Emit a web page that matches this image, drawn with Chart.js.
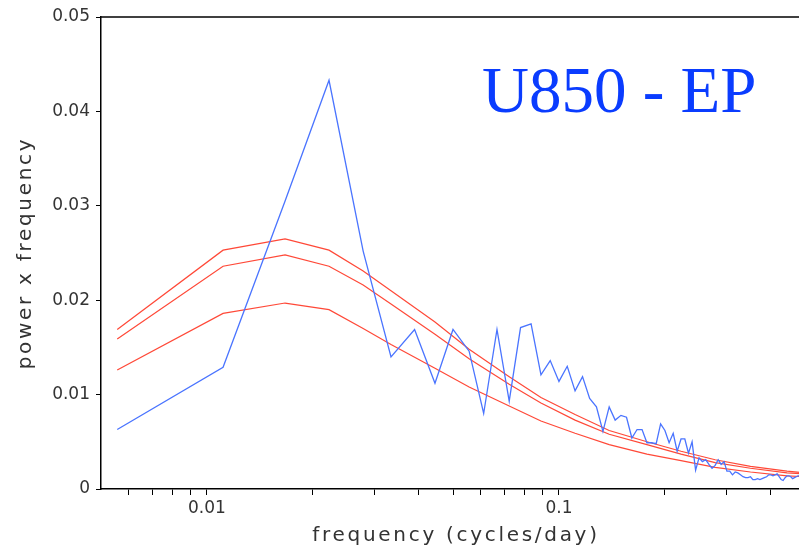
<!DOCTYPE html>
<html>
<head>
<meta charset="utf-8">
<script src="https://cdn.jsdelivr.net/npm/chart.js@4"></script>
<style>
  html, body { margin: 0; padding: 0; background: #fff; overflow: hidden; }
  .chart-box { position: absolute; left: 0; top: 0; width: 806px; height: 553px; }
</style>
</head>
<body>
<div class="chart-box"><canvas id="spectrum"></canvas></div>
<script>
// frequencies (cycles/day) of the spectral estimates
const freqs = [
  0.00556, 0.01111, 0.01667, 0.02222, 0.02778, 0.03333, 0.03889, 0.04444, 0.05, 0.05556,
  0.06111, 0.06667, 0.07222, 0.07778, 0.08333, 0.08889, 0.09444, 0.1, 0.10556, 0.11111,
  0.11667, 0.12222, 0.12778, 0.13333, 0.13889, 0.14444, 0.15, 0.15556, 0.16111, 0.16667,
  0.17222, 0.17778, 0.18333, 0.18889, 0.19444, 0.2, 0.20556, 0.21111, 0.21667, 0.22222,
  0.22778, 0.23333, 0.23889, 0.24444, 0.25, 0.25556, 0.26111, 0.26667, 0.27222, 0.27778,
  0.28333, 0.28889, 0.29444, 0.3, 0.30556, 0.31111, 0.31667, 0.32222, 0.32778, 0.33333,
  0.33889, 0.34444, 0.35, 0.35556, 0.36111, 0.36667, 0.37222, 0.37778, 0.38333, 0.38889,
  0.39444, 0.4, 0.40556, 0.41111, 0.41667, 0.42222, 0.42778, 0.43333, 0.43889, 0.44444,
  0.45, 0.45556, 0.46111, 0.46667, 0.47222, 0.47778, 0.48333, 0.48889, 0.49444, 0.5
];

// power x frequency of U850 over EP
const power = [
  0.0063, 0.0129, 0.0305, 0.0433, 0.0252, 0.0140, 0.0169, 0.0112, 0.0169, 0.0146,
  0.0080, 0.0169, 0.0093, 0.0171, 0.0175, 0.0121, 0.0136, 0.0114, 0.0130, 0.0104,
  0.0119, 0.0096, 0.0087, 0.0061, 0.0087, 0.0073, 0.0078, 0.0076, 0.0054, 0.0063,
  0.0063, 0.0049, 0.0049, 0.0048, 0.0069, 0.0062, 0.0049, 0.0059, 0.0040, 0.0053,
  0.0053, 0.0038, 0.0050, 0.0020, 0.0033, 0.0029, 0.0031, 0.0026, 0.0022, 0.0025,
  0.0031, 0.0026, 0.0029, 0.0019, 0.0019, 0.0015, 0.0018, 0.0017, 0.0015, 0.0013,
  0.0012, 0.0012, 0.0013, 0.0010, 0.0010, 0.0011, 0.0010, 0.0011, 0.0012, 0.0013,
  0.0015, 0.0015, 0.0014, 0.0015, 0.0016, 0.0013, 0.0010, 0.0009, 0.0012, 0.0014,
  0.0014, 0.0013, 0.0011, 0.0012, 0.0013, 0.0014, 0.0014, 0.0013, 0.0014, 0.0015
];

// red-noise background and its confidence curves
const redFreqs = [0.00556, 0.01111, 0.01667, 0.02222, 0.02778, 0.03333, 0.04444, 0.05556, 0.07222,
  0.08889, 0.11111, 0.13889, 0.17778, 0.22222, 0.27778, 0.35, 0.44444, 0.5];
const redUpper = [0.0169, 0.0253, 0.0265, 0.0253, 0.0231, 0.0210, 0.0177, 0.0148, 0.0119,
  0.0097, 0.0079, 0.0062, 0.0050, 0.0040, 0.0031, 0.0024, 0.0019, 0.0017];
const redMiddle = [0.0159, 0.0236, 0.0248, 0.0236, 0.0216, 0.0196, 0.0164, 0.0138, 0.0111,
  0.0091, 0.0073, 0.0058, 0.0047, 0.0037, 0.0028, 0.0022, 0.0017, 0.0016];
const redLower = [0.0126, 0.0186, 0.0197, 0.0190, 0.0170, 0.0153, 0.0128, 0.0108, 0.0088,
  0.0072, 0.0059, 0.0047, 0.0037, 0.0030, 0.0023, 0.0018, 0.0014, 0.0013];

const xTicks = [0.006, 0.007, 0.008, 0.009, 0.01, 0.02, 0.03, 0.04, 0.05, 0.06, 0.07, 0.08, 0.09,
  0.1, 0.2, 0.3, 0.4];
const xLabels = { 0.01: '0.01', 0.1: '0.1' };

const pts = (xs, ys) => xs.map((x, i) => ({ x, y: ys[i] }));
const redLine = (data) => ({
  data, borderColor: 'rgba(255,40,20,0.85)', borderWidth: 1.2, pointRadius: 0, tension: 0
});

// top frame line, panel title and the (wide-spaced) axis titles
const framePlugin = {
  id: 'frame',
  afterDraw(chart) {
    const { ctx, chartArea: a } = chart;
    ctx.save();
    ctx.strokeStyle = '#000';
    ctx.lineWidth = 1.5;
    ctx.beginPath();
    ctx.moveTo(a.left, a.top);
    ctx.lineTo(a.right, a.top);
    ctx.stroke();

    ctx.fillStyle = '#0a3cff';
    ctx.font = '65px "Liberation Serif"';
    ctx.textBaseline = 'alphabetic';
    ctx.fillText('U850 - EP', 482, 112);

    ctx.fillStyle = '#333';
    ctx.font = '20px "DejaVu Sans"';
    ctx.letterSpacing = '2.7px';
    ctx.textAlign = 'center';
    ctx.textBaseline = 'middle';
    ctx.fillText('frequency (cycles/day)', 456, 536);
    ctx.translate(26, 253);
    ctx.rotate(-Math.PI / 2);
    ctx.fillText('power x frequency', 0, 0);
    ctx.restore();
  }
};

const tickFont = { family: 'DejaVu Sans', size: 17 };

new Chart(document.getElementById('spectrum'), {
  type: 'line',
  data: {
    datasets: [
      { data: pts(freqs, power), borderColor: '#4a74ff', borderWidth: 1.3, pointRadius: 0, tension: 0 },
      redLine(pts(redFreqs, redUpper)),
      redLine(pts(redFreqs, redMiddle)),
      redLine(pts(redFreqs, redLower))
    ]
  },
  options: {
    responsive: true, maintainAspectRatio: false, animation: false,
    layout: { padding: { top: 17, right: 1, left: 0, bottom: 0 } },
    plugins: { legend: { display: false }, tooltip: { enabled: false } },
    scales: {
      x: {
        type: 'logarithmic', min: 0.005, max: 0.5,
        afterBuildTicks: (s) => { s.ticks = xTicks.map(v => ({ value: v })); },
        afterFit: (s) => { s.height = 64; },
        ticks: {
          autoSkip: false, maxRotation: 0, padding: 3, color: '#333', font: tickFont,
          callback: (v) => xLabels[v] || ''
        },
        grid: { drawOnChartArea: false, tickLength: 6, color: '#000' },
        border: { color: '#000', width: 1.5 }
      },
      y: {
        min: 0, max: 0.05,
        afterFit: (s) => { s.width = 101; },
        ticks: {
          stepSize: 0.01, padding: 6, color: '#333', font: tickFont,
          callback: (v) => v === 0 ? '0' : v.toFixed(2)
        },
        grid: { drawOnChartArea: false, tickLength: 5, color: '#000' },
        border: { color: '#000', width: 1.5 }
      }
    }
  },
  plugins: [framePlugin]
});
</script>
</body>
</html>
